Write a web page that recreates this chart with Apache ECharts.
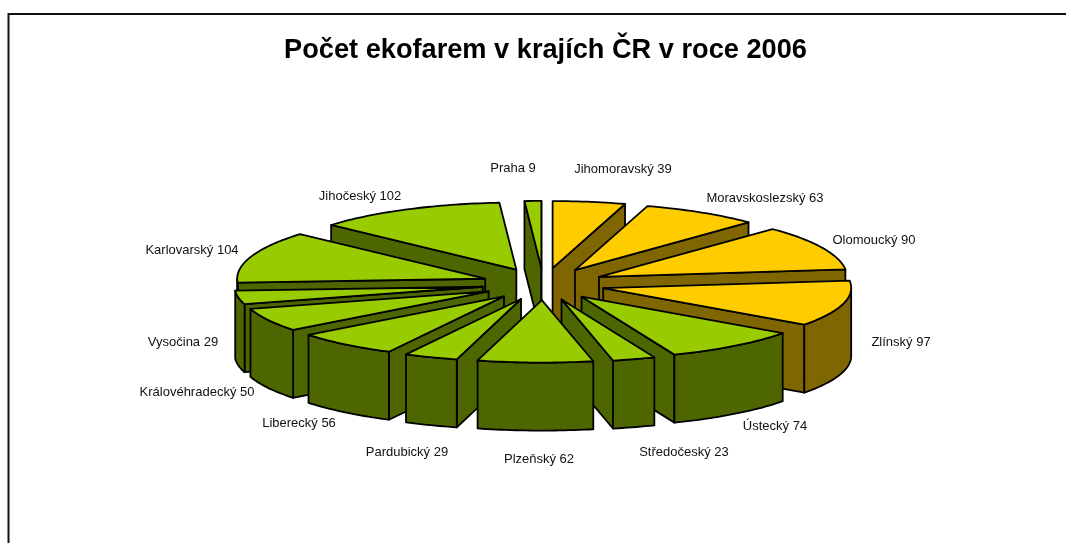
<!DOCTYPE html>
<html>
<head>
<meta charset="utf-8">
<style>html,body{margin:0;padding:0;background:#fff}#c{width:1066px;height:543px}</style>
<script src="https://cdn.jsdelivr.net/npm/echarts@6/dist/echarts.min.js"></script>
</head>
<body>
<div id="c"></div>
<script>
// Data, clockwise from the top of the pie
const regions = ['Jihomoravský','Moravskoslezský','Olomoucký','Zlínský','Ústecký','Středočeský','Plzeňský','Pardubický','Liberecký','Královéhradecký','Vysočina','Karlovarský','Jihočeský','Praha'];
const farms = [39,63,90,97,74,23,62,29,56,50,29,104,102,9];
const palette = ['gold','gold','gold','gold','green','green','green','green','green','green','green','green','green','green'];

// Label layout (text centres)
const labelX = [623,765,874,901,775,684,539,407,299,197,183,192,360,513];
const labelY = [169,198,240,342,426,452,459,452,423,392,342,250,196,168];

// Pie projection: the back half is drawn a little taller (perspective)
const CX = 543.5, CY = 284, RX = 248, RY_FRONT = 62.5, RY_BACK = 67, DEPTH = 68, EX = 61.7, EY = 16.1;
const COLORS = {
  gold: {top:'#FFCC00', side:'#806600'},
  green: {top:'#99CC00', side:'#4D6600'}
};
const total = farms.reduce((a,b)=>a+b,0);
const START = []; let acc = 0;
farms.forEach((v,i)=>{START[i]=acc/total*2*Math.PI; acc+=v;});
const endOf = i => START[i]+farms[i]/total*2*Math.PI;
const midOf = i => (START[i]+endOf(i))/2;
// Back slices are painted first
const order = farms.map((_,i)=>i).sort((a,b)=>(-Math.cos(midOf(a)))-(-Math.cos(midOf(b))));

const rimY = (cy,t) => { const c=Math.cos(t); return cy-(c>0?RY_BACK:RY_FRONT)*c; };
function arc(cx,cy,a,b){
  const n = Math.max(2,Math.ceil((b-a)/0.02)), pts=[];
  for(let k=0;k<=n;k++){const t=a+(b-a)*k/n; pts.push([cx+RX*Math.sin(t),rimY(cy,t)]);}
  return pts;
}
const lineStyle = fill => ({fill, stroke:'#000', lineWidth:1.8, lineJoin:'round'});
const poly = (points,fill,z2) => ({type:'polygon', shape:{points}, style:lineStyle(fill), z2});

function renderItem(params, api){
  const i = api.value(1), a=START[i], b=endOf(i), m=midOf(i);
  const cx = CX+EX*Math.sin(m), cy = CY-EY*Math.cos(m);
  const col = COLORS[palette[i]], kids=[];
  const wall = t => {
    const x=cx+RX*Math.sin(t), y=rimY(cy,t);
    return [[cx,cy],[x,y],[x,y+DEPTH],[cx,cy+DEPTH]];
  };
  if(Math.sin(a)<0) kids.push(poly(wall(a),col.side,1));
  if(Math.sin(b)>0) kids.push(poly(wall(b),col.side,1));
  const wa=Math.max(a,Math.PI/2), wb=Math.min(b,Math.PI*1.5);
  if(wb>wa){
    const up=arc(cx,cy,wa,wb), down=up.map(p=>[p[0],p[1]+DEPTH]).reverse();
    kids.push(poly(up.concat(down),col.side,2));
  }
  kids.push(poly([[cx,cy]].concat(arc(cx,cy,a,b)),col.top,3));
  kids.push({type:'text', z2:50, style:{
    x:labelX[i], y:labelY[i]+0.5, text:regions[i]+' '+farms[i],
    fill:'#111', font:'13px "Liberation Sans", Arial, sans-serif',
    textAlign:'center', textVerticalAlign:'middle'
  }});
  return {type:'group', children:kids};
}

const chart = echarts.init(document.getElementById('c'),null,{renderer:'canvas'});
chart.setOption({
  animation:false,
  backgroundColor:'#fff',
  title:{
    text:'Počet ekofarem v krajích ČR v roce 2006',
    left:540.5, top:32, textAlign:'center',
    textStyle:{color:'#000', fontFamily:'"Liberation Sans", Arial, sans-serif', fontWeight:'bold', fontSize:27.2}
  },
  graphic:[{type:'polyline', silent:true, shape:{points:[[8.5,543],[8.5,14],[1066,14]]}, style:{stroke:'#111', lineWidth:2, fill:null}}],
  series:[{
    type:'custom', coordinateSystem:'none', silent:true, clip:false,
    renderItem,
    data:order.map(i=>({name:regions[i], value:[farms[i],i]}))
  }]
});
</script>
</body>
</html>
